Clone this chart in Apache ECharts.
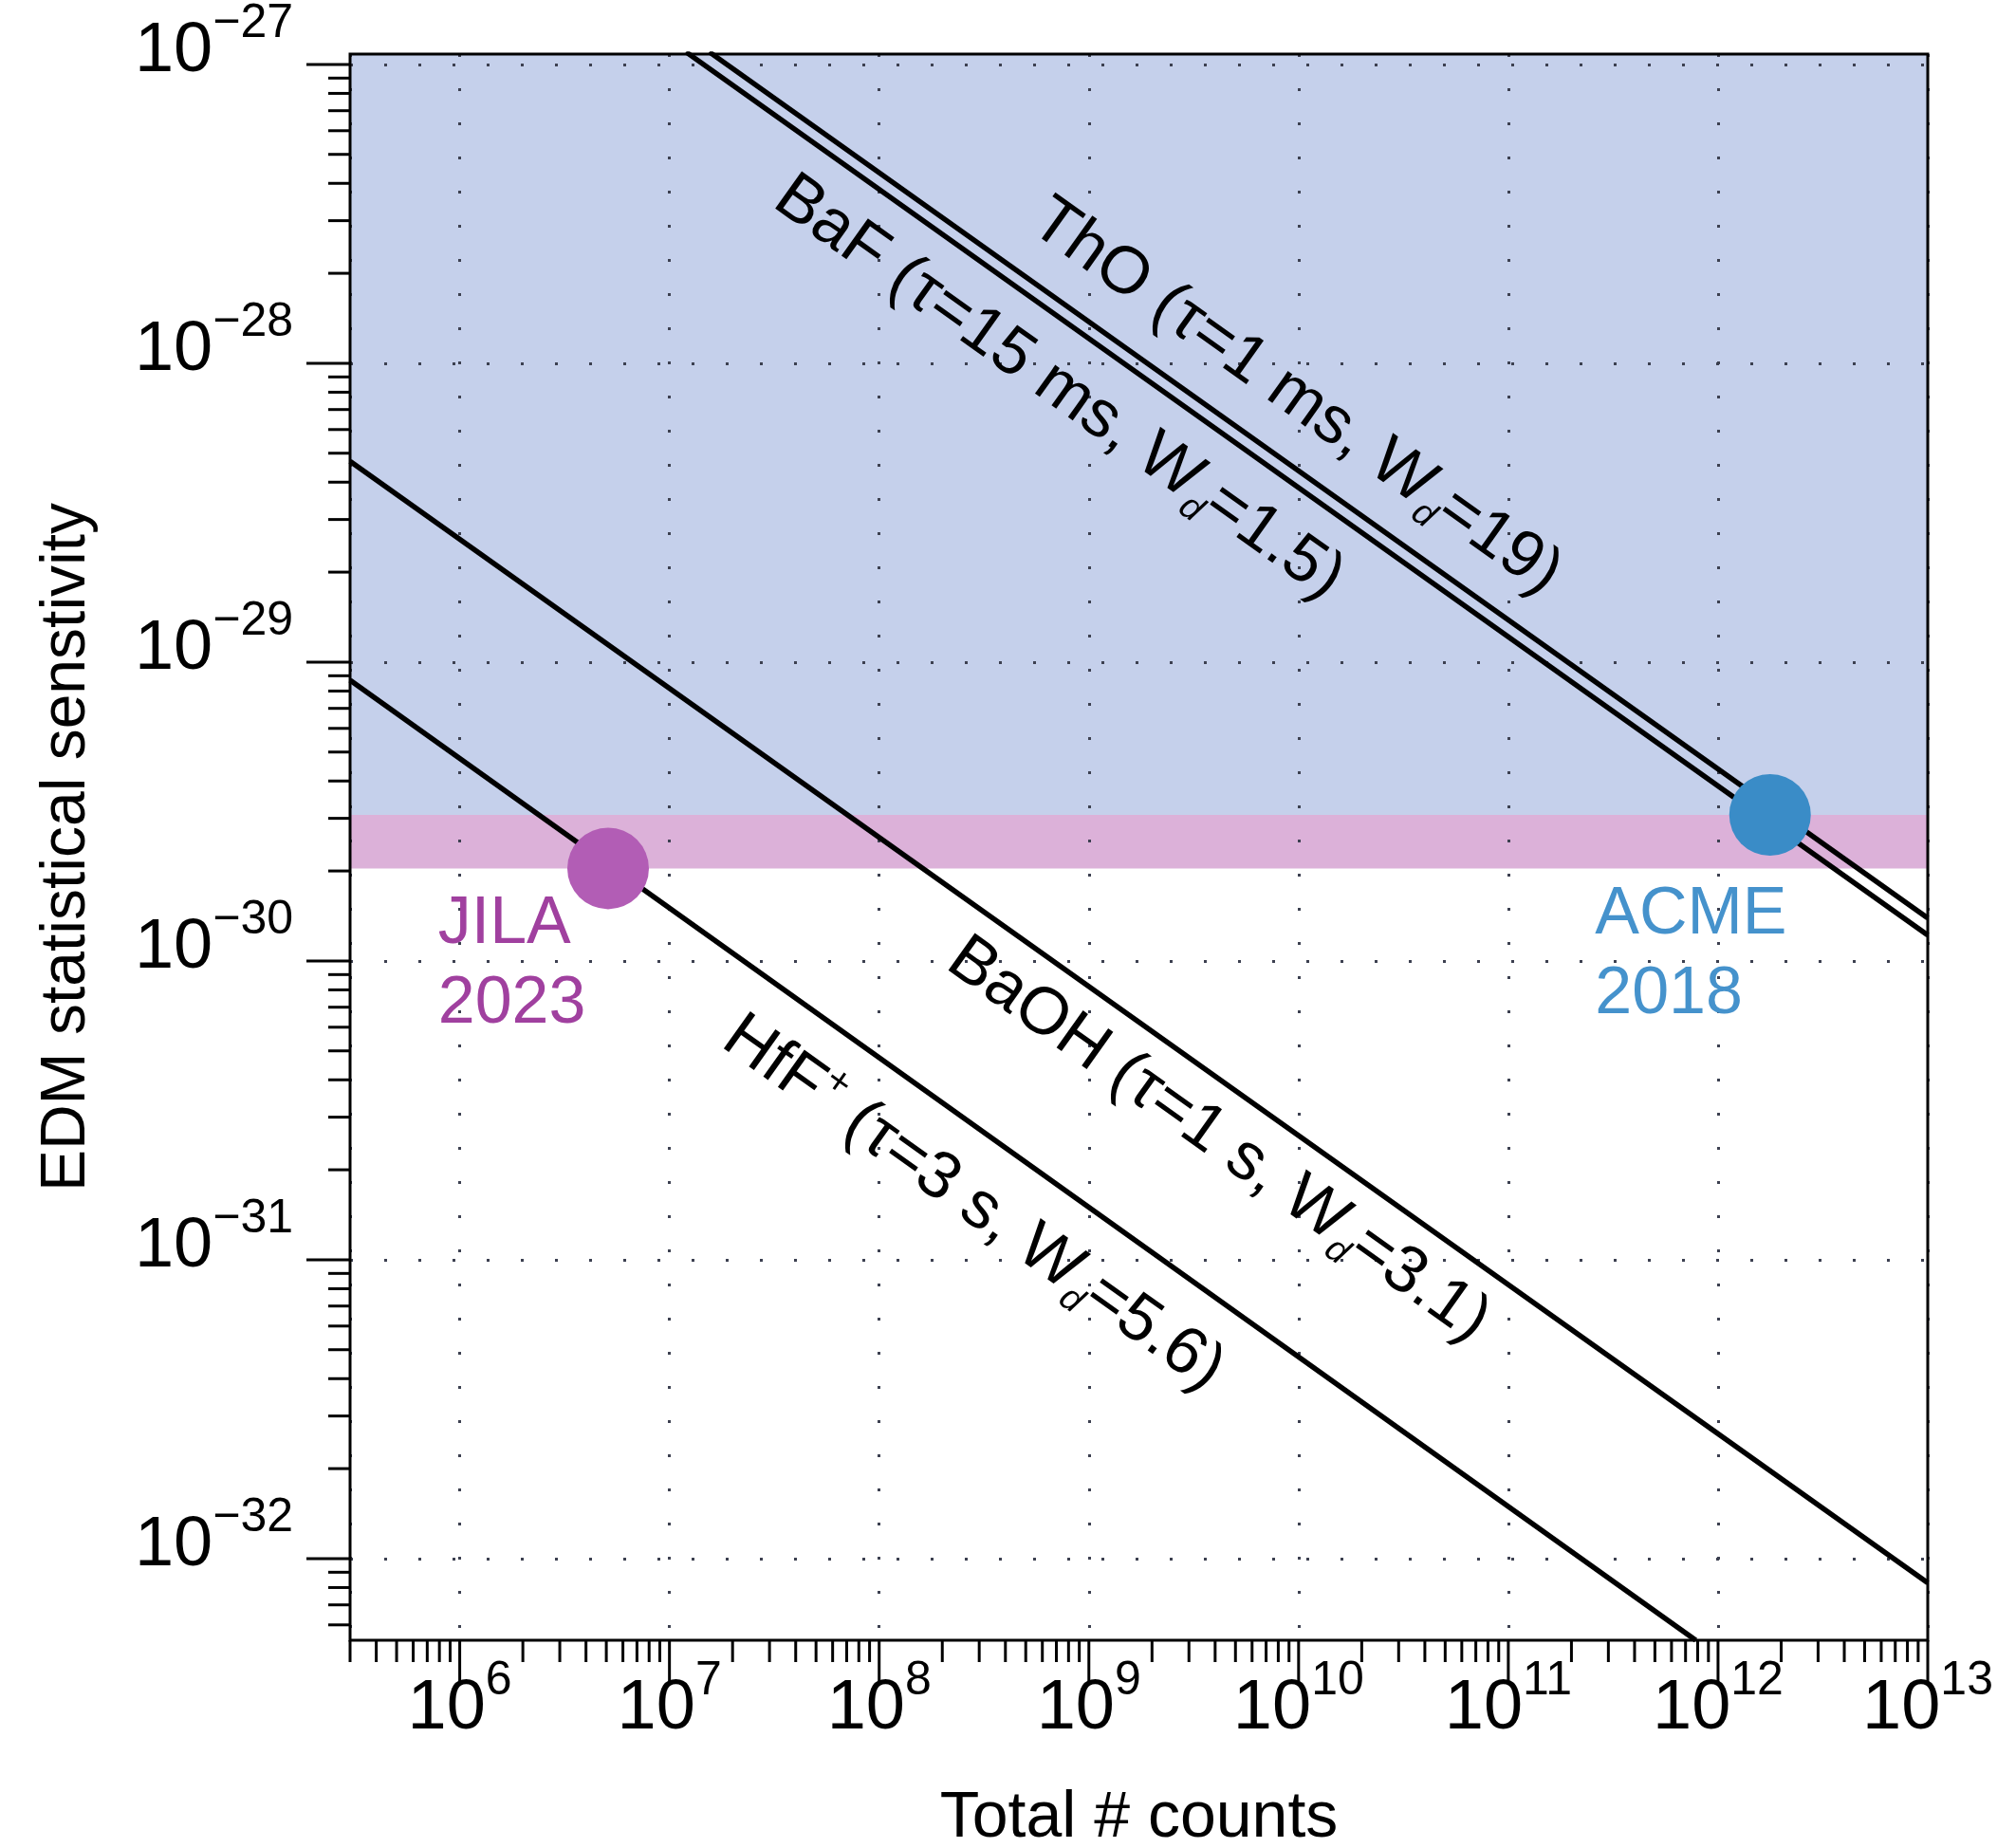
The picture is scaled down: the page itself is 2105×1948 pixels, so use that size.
<!DOCTYPE html>
<html><head><meta charset="utf-8">
<script src="https://cdn.jsdelivr.net/npm/echarts@6/dist/echarts.min.js"></script>
<style>html,body{margin:0;padding:0;background:#fff}#c{width:2105px;height:1948px}</style>
</head><body><div id="c"></div>
<script>
// ---- axis ranges & ticks ----
const X_MIN = 3e5, X_MAX = 1e13;
const Y_MIN = 5.33e-33, Y_MAX = 1.083e-27;
const xMajorTicks = [1e6, 1e7, 1e8, 1e9, 1e10, 1e11, 1e12, 1e13];
const yMajorTicks = [1e-32, 1e-31, 1e-30, 1e-29, 1e-28, 1e-27];
const minorMantissas = [2, 3, 4, 5, 6, 7, 8, 9];
const xMinorDecades = [1e5, 1e6, 1e7, 1e8, 1e9, 1e10, 1e11, 1e12];
const yMinorDecades = [1e-33, 1e-32, 1e-31, 1e-30, 1e-29, 1e-28];

// ---- series values ----
const thoLine  = [[1.55e7, 1.1e-27], [1e13, 1.39e-30]];
const bafLine  = [[1.2e7, 1.1e-27], [1e13, 1.22e-30]];
const baohLine = [[3e5, 4.7e-29], [1e13, 8.3e-33]];
const hffLine  = [[3e5, 8.7e-30], [7.83e11, 5.33e-33]];
const jilaPoint = [5.1e6, 2.04e-30];
const acmePoint = [1.77e12, 3.08e-30];

// ---- bands: [lower, upper] ----
const bandRanges = [[acmePoint[1], Y_MAX], [jilaPoint[1], acmePoint[1]]];
const bandColors = ['#c5d0eb', '#dcb1d9'];

// ---- annotation texts ----
const lineLabelTexts = [
  '{n|ThO (τ=1 ms, W}{d|d}{n|=19)}',
  '{n|BaF (τ=15 ms, W}{d|d}{n|=1.5)}',
  '{n|BaOH (τ=1 s, W}{d|d}{n|=3.1)}',
  '{n|HfF}{p|+}{n| (τ=3 s, W}{d|d}{n|=5.6)}'
];
const lineLabelAnchors = [[9.73e9, 7.69e-29], [7.19e8, 8.26e-29], [4.14e9, 2.51e-31], [2.81e8, 1.54e-31]];
const pointLabelTexts = ['JILA\n2023', 'ACME\n2018'];
const pointLabelAnchors = [[7.88e5, 1.795e-30], [2.59e11, 1.93e-30]];
const pointLabelColors = ['#a0409f', '#4592cc'];

const FONT = 'Liberation Sans';

function buildMinor(decades, lo, hi) {
  const out = [];
  decades.forEach(d => minorMantissas.forEach(m => { const v = m * d; if (v >= lo * 0.9999 && v <= hi * 1.0001) out.push(v); }));
  return out;
}
const xTickData = xMajorTicks.map(v => [v, Y_MIN, 1]).concat(buildMinor(xMinorDecades, X_MIN, X_MAX).map(v => [v, Y_MIN, 0]));
const yTickData = yMajorTicks.map(v => [X_MIN, v, 1]).concat(buildMinor(yMinorDecades, Y_MIN, Y_MAX).map(v => [X_MIN, v, 0]));

function expLabel(v) {
  if (!(v > 0) || !isFinite(v)) return '';
  const l = Math.log10(v);
  if (!isFinite(l)) return '';
  const e = Math.round(l);
  if (Math.abs(l - e) > 1e-6) return '';
  return '{b|10}{e|' + (e < 0 ? '\u2212' + (-e) : e) + '}';
}
const expRich = {
  b: {fontSize: 74, lineHeight: 76, fontFamily: FONT, color: '#000', verticalAlign: 'bottom'},
  e: {fontSize: 50, lineHeight: 50, fontFamily: FONT, color: '#000', verticalAlign: 'bottom', padding: [0, 0, 42, 0]}
};
const lineRich = {
  n: {fontSize: 70, lineHeight: 84, fontFamily: FONT, fill: '#000'},
  d: {fontSize: 38, lineHeight: 38, fontFamily: FONT, fontStyle: 'italic', fill: '#000', padding: [40, 0, 0, 0], verticalAlign: 'bottom'},
  p: {fontSize: 42, lineHeight: 42, fontFamily: FONT, fill: '#000', verticalAlign: 'top'}
};
const gridDots = {color: '#3c4050', width: 3, type: [3, 33]};

const lineStyleBlack = {color: '#000', width: 5.5};
function lineSeries(name, data) {
  return {name, type: 'line', data, symbol: 'none', z: 4, clip: true, lineStyle: lineStyleBlack, silent: true, animation: false};
}

const chart = echarts.init(document.getElementById('c'), null, {renderer: 'canvas', width: 2105, height: 1948});
chart.setOption({
  animation: false,
  backgroundColor: '#fff',
  grid: {left: 369, right: 73, top: 57, bottom: 219, show: true, borderColor: '#000', borderWidth: 3, z: 8, outerBoundsMode: 'none'},
  xAxis: {
    type: 'log', logBase: 10, min: X_MIN, max: X_MAX, splitNumber: 10, z: 2,
    axisLine: {show: false}, axisTick: {show: false},
    splitLine: {show: true, lineStyle: gridDots},
    axisLabel: {formatter: expLabel, rich: expRich, margin: 34, color: '#000', fontFamily: FONT},
    name: 'Total # counts', nameLocation: 'middle', nameGap: 154, nameMoveOverlap: false,
    nameTextStyle: {fontSize: 68, fontFamily: FONT, color: '#000'}
  },
  yAxis: {
    type: 'log', logBase: 10, min: Y_MIN, max: Y_MAX, splitNumber: 10, z: 2,
    axisLine: {show: false}, axisTick: {show: false},
    splitLine: {show: true, lineStyle: gridDots},
    axisLabel: {formatter: expLabel, rich: expRich, margin: 60, color: '#000', fontFamily: FONT, padding: [0, 0, 28, 0]},
    name: 'EDM statistical senstivity', nameLocation: 'middle', nameRotate: 90, nameGap: 265, nameMoveOverlap: false,
    nameTextStyle: {fontSize: 66, fontFamily: FONT, color: '#000'}
  },
  series: [
    {
      type: 'custom', z: 1, silent: true, clip: true,
      data: bandRanges.map((r, i) => [X_MIN, r[0], r[1], i]),
      renderItem(params, api) {
        const lo = api.coord([X_MIN, api.value(1)]);
        const hi = api.coord([X_MAX, api.value(2)]);
        return {type: 'rect', shape: {x: lo[0], y: hi[1], width: hi[0] - lo[0], height: lo[1] - hi[1]},
          style: {fill: bandColors[api.value(3)]}};
      }
    },
    lineSeries('ThO', thoLine),
    lineSeries('BaF', bafLine),
    lineSeries('BaOH', baohLine),
    lineSeries('HfF+', hffLine),
    {type: 'scatter', data: [jilaPoint], symbol: 'circle', symbolSize: 86, itemStyle: {color: '#b25db5', opacity: 1}, z: 6, silent: true},
    {type: 'scatter', data: [acmePoint], symbol: 'circle', symbolSize: 86, itemStyle: {color: '#3a8cc7', opacity: 1}, z: 6, silent: true},
    {
      type: 'custom', data: xTickData, clip: false, z: 7, silent: true,
      renderItem(params, api) {
        const p = api.coord([api.value(0), api.value(1)]);
        const len = api.value(2) ? 44 : 23;
        return {type: 'line', shape: {x1: p[0], y1: p[1], x2: p[0], y2: p[1] + len}, style: {stroke: '#000', lineWidth: 3}};
      }
    },
    {
      type: 'custom', data: yTickData, clip: false, z: 7, silent: true,
      renderItem(params, api) {
        const p = api.coord([api.value(0), api.value(1)]);
        const len = api.value(2) ? 46 : 23;
        return {type: 'line', shape: {x1: p[0] - len, y1: p[1], x2: p[0], y2: p[1]}, style: {stroke: '#000', lineWidth: 3}};
      }
    },
    {
      type: 'custom', data: lineLabelAnchors.map((a, i) => [a[0], a[1], i]), clip: false, z: 7, silent: true,
      renderItem(params, api) {
        const x = api.value(0), y = api.value(1), i = api.value(2);
        const p = api.coord([x, y]);
        const q = api.coord([x * 100, y / 10]);
        const rot = -Math.atan2(q[1] - p[1], q[0] - p[0]);
        return {type: 'text', x: p[0], y: p[1], rotation: rot,
          style: {text: lineLabelTexts[i], rich: lineRich, fontFamily: FONT, fontSize: 70, fill: '#000', align: 'center', verticalAlign: 'middle'}};
      }
    },
    {
      type: 'custom', data: pointLabelAnchors.map((a, i) => [a[0], a[1], i]), clip: false, z: 7, silent: true,
      renderItem(params, api) {
        const i = api.value(2);
        const p = api.coord([api.value(0), api.value(1)]);
        return {type: 'text', x: p[0], y: p[1],
          style: {text: pointLabelTexts[i], fontFamily: FONT, fontSize: 70, lineHeight: 84, fill: pointLabelColors[i], align: 'left', verticalAlign: 'top'}};
      }
    }
  ]
});
</script>
</body></html>
